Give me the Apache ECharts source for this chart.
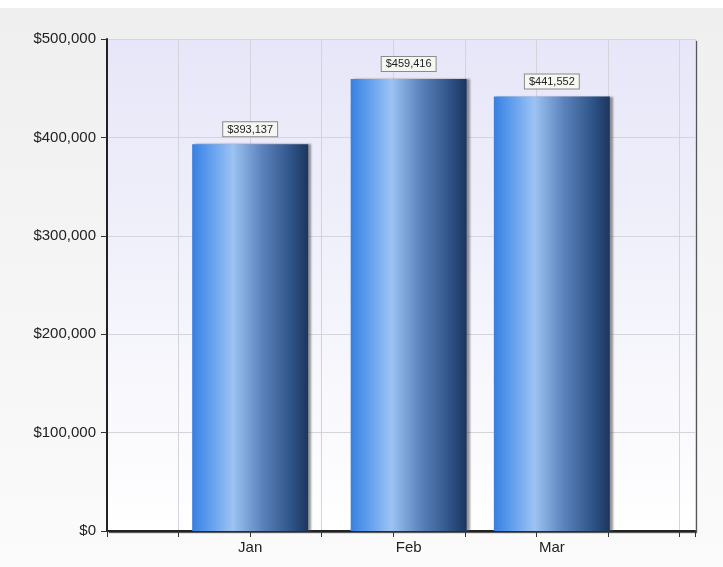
<!DOCTYPE html>
<html><head><meta charset="utf-8">
<script src="https://cdn.jsdelivr.net/npm/echarts@6/dist/echarts.min.js"></script>
<style>html,body{margin:0;padding:0;background:#fff}#c{width:723px;height:567px}</style>
</head><body><div id="c"></div>
<script>
// Month positions expressed in days from Jan 1
const categories = ['Jan', 'Feb', 'Mar'];
const categoryDays = [0, 31, 59];
const revenue = [393137, 459416, 441552];
const yTicks = [0, 100000, 200000, 300000, 400000, 500000];

const fmtMoney = v => '$' + Math.round(v).toLocaleString('en-US');
const chart = echarts.init(document.getElementById('c'), null, {renderer: 'canvas'});
const barData = categoryDays.map((d, i) => [d, revenue[i]]);

chart.setOption({
  animation: false,
  backgroundColor: new echarts.graphic.LinearGradient(0, 0, 0, 1, [
    {offset: 0, color: '#ffffff'}, {offset: 0.013, color: '#ffffff'},
    {offset: 0.015, color: '#efefef'}, {offset: 1, color: '#fbfbfb'}
  ]),
  grid: {
    left: 107, right: 28, top: 39, bottom: 36,
    show: true, borderWidth: 0,
    backgroundColor: new echarts.graphic.LinearGradient(0, 0, 0, 1, [
      {offset: 0, color: '#e6e6f8'}, {offset: 1, color: '#ffffff'}
    ]),
    shadowColor: 'rgba(60,60,60,0.85)', shadowOffsetX: 2, shadowOffsetY: 2, shadowBlur: 1
  },
  xAxis: {
    type: 'value', min: -28, max: 87, interval: 14,
    axisLine: {show: true, onZero: false, lineStyle: {color: '#222', width: 2}},
    axisTick: {show: true, length: 6, lineStyle: {color: '#333'}},
    splitLine: {show: true, lineStyle: {color: '#d4d4dc', width: 1}},
    axisLabel: {
      customValues: categoryDays,
      formatter: v => categories[categoryDays.indexOf(v)] || '',
      color: '#222', fontFamily: 'Liberation Sans, Arial, sans-serif', fontSize: 15, margin: 9
    }
  },
  yAxis: {
    type: 'value', min: 0, max: 500000, interval: 100000,
    axisLine: {show: true, onZero: false, lineStyle: {color: '#222', width: 2}},
    axisTick: {show: true, length: 6, lineStyle: {color: '#333'}},
    splitLine: {show: true, lineStyle: {color: '#d4d4dc', width: 1}},
    axisLabel: {
      formatter: v => fmtMoney(v),
      color: '#222', fontFamily: 'Liberation Sans, Arial, sans-serif', fontSize: 15, margin: 11
    }
  },
  series: [{
    type: 'bar',
    data: barData,
    barWidth: 116,
    itemStyle: {
      color: new echarts.graphic.LinearGradient(0, 0, 1, 0, [
        {offset: 0, color: '#3a7fdc'},
        {offset: 0.08, color: '#4b90ea'},
        {offset: 0.35, color: '#9cc3f3'},
        {offset: 0.6, color: '#5d83bd'},
        {offset: 0.85, color: '#2f5488'},
        {offset: 1, color: '#1c355e'}
      ]),
      shadowColor: 'rgba(80,80,80,0.6)', shadowOffsetX: 3, shadowOffsetY: 0, shadowBlur: 2
    },
    label: {
      show: true, position: 'top', distance: 8,
      formatter: p => fmtMoney(p.value[1]),
      fontFamily: 'Liberation Sans, Arial, sans-serif', fontSize: 11, color: '#222',
      backgroundColor: '#f6f6f2', borderColor: '#8a8a8a', borderWidth: 1,
      padding: [2, 4, 1, 4]
    }
  }]
});
</script></body></html>
